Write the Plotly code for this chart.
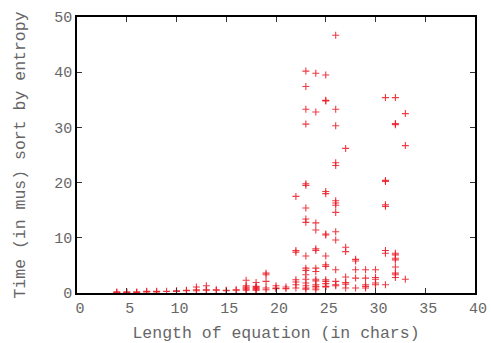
import plotly.graph_objects as go

# Length of equation (chars) and measured time (mus), one entry per sample
length_chars = (
    [4]*2 + [5]*2 + [6]*2 + [7]*2 + [8]*2 + [9] + [10]*2 + [11]*2 + [12]*3 + [13]*3
    + [14]*2 + [15]*2 + [16]*2 + [17]*6 + [18]*6 + [19]*5 + [20]*3 + [21]*2 + [22]*7
    + [23]*18 + [24]*14 + [25]*15 + [26]*15 + [27]*7 + [28]*5 + [29]*5 + [30]*5
    + [31]*8 + [32]*11 + [33]*3
)
time_mus = [
    0.1, 0.2,
    0.1, 0.2,
    0.1, 0.2,
    0.2, 0.3,
    0.2, 0.3,
    0.3,
    0.3, 0.4,
    0.4, 0.5,
    0.4, 0.6, 1.1,
    0.5, 0.6, 1.3,
    0.5, 0.6,
    0.4, 0.5,
    0.5, 0.6,
    0.5, 0.7, 0.9, 1.1, 1.3, 2.3,
    0.5, 0.6, 0.8, 1.0, 1.2, 1.9,
    0.6, 0.9, 2.1, 3.3, 3.6,
    0.8, 0.9, 1.3,
    0.8, 1.1,
    0.9, 1.5, 2.0, 2.4, 7.4, 7.7, 17.5,
    0.7, 0.9, 1.3, 1.8, 2.5, 3.3, 4.1, 4.5, 6.7, 12.8, 13.4, 15.4, 19.5, 19.8, 30.6, 33.3, 37.4, 40.2,
    0.6, 0.9, 1.2, 1.5, 2.2, 2.5, 3.9, 4.5, 7.7, 8.0, 11.4, 12.7, 32.8, 39.8,
    1.1, 1.2, 1.7, 2.1, 2.4, 4.8, 5.1, 6.7, 10.5, 10.7, 18.0, 18.4, 34.8, 34.9, 39.5,
    1.3, 1.5, 2.1, 4.2, 9.6, 11.1, 14.6, 15.9, 16.3, 16.7, 23.1, 23.6, 30.3, 33.3, 46.7,
    0.9, 1.6, 1.9, 2.9, 7.5, 8.3, 26.2,
    0.9, 2.7, 4.2, 5.8, 6.1,
    0.9, 1.2, 1.5, 2.7, 4.2,
    1.5, 1.8, 2.5, 2.8, 4.2,
    1.5, 7.2, 7.7, 15.7, 16.0, 20.2, 20.4, 35.4,
    2.8, 3.3, 3.6, 4.7, 6.0, 6.3, 6.9, 7.2, 30.5, 30.7, 35.4,
    2.5, 26.7, 32.5,
]

x_ticks = [0, 5, 10, 15, 20, 25, 30, 35, 40]
y_ticks = [0, 10, 20, 30, 40, 50]

font_family = "Liberation Mono, DejaVu Sans Mono, monospace"
red = "rgba(235,25,35,0.85)"
text_color = "#666"

fig = go.Figure(go.Scatter(
    x=length_chars, y=time_mus, mode="markers",
    marker=dict(symbol="cross-thin", size=5, color=red,
                line=dict(color=red, width=1.1)),
    showlegend=False,
))

axis_common = dict(
    showgrid=False, zeroline=False, showline=True, linecolor="black", linewidth=1.5,
    mirror="allticks", ticks="inside", ticklen=5, tickwidth=1, tickcolor="#333",
    tickfont=dict(family=font_family, size=15, color=text_color), automargin=False,
)
fig.update_layout(
    width=491, height=343,
    margin=dict(l=77, r=16, t=17, b=50),
    plot_bgcolor="white", paper_bgcolor="white",
    xaxis=dict(range=[0, 40], tickvals=x_ticks, ticklabelshift=3,
               title=dict(text="Length of equation (in chars)", standoff=15,
                          font=dict(family=font_family, size=16.5, color=text_color)),
               **axis_common),
    yaxis=dict(range=[0, 50], tickvals=y_ticks,
               title=dict(text="Time (in mus) sort by entropy", standoff=24,
                          font=dict(family=font_family, size=16.5, color=text_color)),
               **axis_common),
)
fig.write_html("out.html")
